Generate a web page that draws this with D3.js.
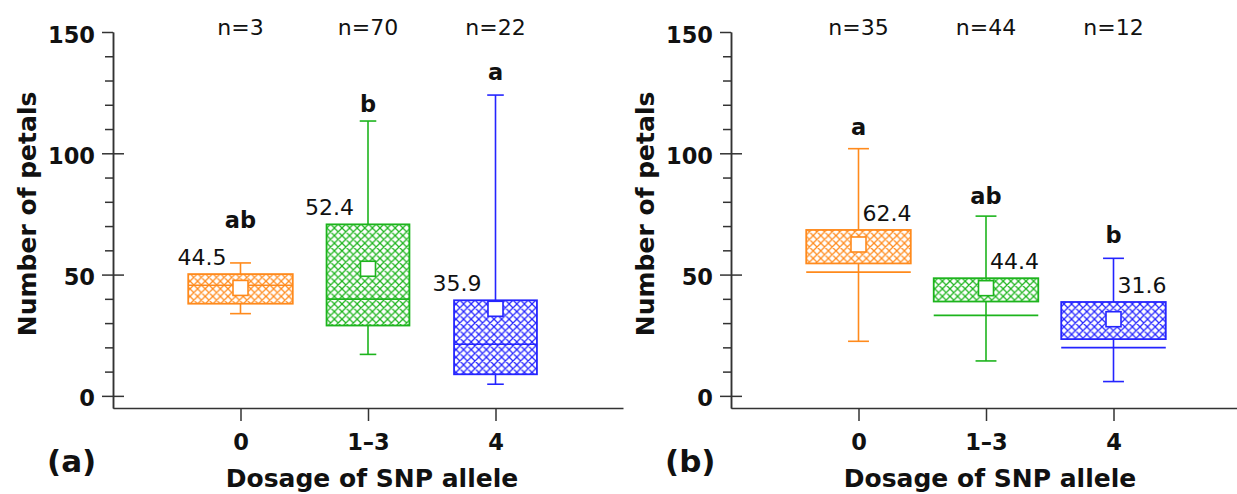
<!DOCTYPE html>
<html>
<head>
<meta charset="utf-8">
<script src="https://cdn.jsdelivr.net/npm/d3@7"></script>
<style>
  html, body { margin: 0; padding: 0; background: #fff; }
  svg { display: block; }
  text { font-family: "DejaVu Sans", Verdana, sans-serif; fill: #111; }
</style>
</head>
<body>
<svg id="chart" width="1237" height="494"></svg>
<script>
// ---------- data ----------
const categories = ["0", "1–3", "4"];
const seriesColors = ["#ff8a1c", "#1db41d", "#2424ff"];
const yMajorTicks = [0, 50, 100, 150];
const yMinorTicks = [10, 20, 30, 40, 60, 70, 80, 90, 110, 120, 130, 140];

// panel (a)
const nA = [3, 70, 22];
const whiskerHighA = [54.8, 113.3, 124.0];
const boxHighA = [50.2, 70.7, 39.4];
const lineA = [45.6, 39.9, 21.3];
const boxLowA = [38.0, 29.0, 8.9];
const whiskerLowA = [33.9, 17.1, 4.8];
const meanA = [44.5, 52.4, 35.9];
const lettersA = ["ab", "b", "a"];
const letterAtA = [69.1, 116.9, 130.4];
const boxWidthA = [0.82, 0.65, 0.65];

// panel (b)
const nB = [35, 44, 12];
const whiskerHighB = [101.9, 74.1, 56.7];
const boxHighB = [68.4, 48.5, 38.7];
const lineB = [51.0, 33.2, 19.9];
const boxLowB = [54.6, 38.9, 23.4];
const whiskerLowB = [22.5, 14.4, 5.9];
const meanB = [62.4, 44.4, 31.6];
const lettersB = ["a", "ab", "b"];
const letterAtB = [107.4, 79.3, 63.2];
const boxWidthB = [0.82, 0.82, 0.82];

// ---------- drawing ----------
const svg = d3.select("#chart");
const defs = svg.append("defs");
seriesColors.forEach((c, i) => {
  const p = defs.append("pattern")
    .attr("id", "hatch" + i)
    .attr("patternUnits", "userSpaceOnUse")
    .attr("width", 7.6).attr("height", 7.6);
  p.append("path")
    .attr("d", "M0,0L7.6,7.6M-1,6.6L1,8.6M6.6,-1L8.6,1M0,7.6L7.6,0M-1,1L1,-1M6.6,8.6L8.6,6.6")
    .attr("stroke", c).attr("stroke-width", 1.25).attr("fill", "none");
});

function drawPanel(opt) {
  const g = svg.append("g");
  const x = d3.scaleLinear().domain([0, 4]).range([opt.left, opt.left + 510]);
  const y = d3.scaleLinear().domain([-5, 150]).range([408, 32]);
  const step = x(1) - x(0);
  const idx = categories.map((d, i) => i);

  // axes
  const axisColor = "#333";
  g.append("g").attr("transform", `translate(${opt.left},0)`)
    .call(d3.axisLeft(y).tickValues(yMinorTicks).tickSize(8).tickSizeOuter(0).tickFormat(""));
  const yMajorR = g.append("g").attr("transform", `translate(${opt.left},0)`)
    .call(d3.axisRight(y).tickValues(yMajorTicks.filter(v => v < 150)).tickSize(11).tickFormat(""));
  yMajorR.select(".domain").remove();
  const yAxis = g.append("g").attr("transform", `translate(${opt.left},0)`)
    .call(d3.axisLeft(y).tickValues(yMajorTicks).tickSize(11).tickSizeOuter(0).tickPadding(7));
  yAxis.selectAll("text")
    .style("font-weight", "bold").style("font-size", "22.5px")
    .attr("dy", "0.45em");
  const xAxis = g.append("g").attr("transform", `translate(0,${y(-5)})`)
    .call(d3.axisBottom(x).tickValues([1, 2, 3]).tickFormat(v => categories[v - 1])
      .tickSize(13).tickSizeOuter(0).tickPadding(13));
  xAxis.selectAll("text").style("font-weight", "bold").style("font-size", "22.5px");
  g.selectAll(".domain, .tick line").attr("stroke", axisColor).attr("stroke-width", 1.5);
  g.selectAll(".tick text").attr("fill", "#111");

  // axis titles
  g.append("text")
    .attr("transform", `translate(${opt.left - 77},${y(75)}) rotate(-90)`)
    .attr("text-anchor", "middle")
    .style("font-weight", "bold").style("font-size", "25px")
    .text("Number of petals");
  g.append("text")
    .attr("x", x(2) + 4).attr("y", 487)
    .attr("text-anchor", "middle")
    .style("font-weight", "bold").style("font-size", "25px")
    .text("Dosage of SNP allele");
  g.append("text")
    .attr("x", opt.left - 66).attr("y", 472)
    .style("font-weight", "bold").style("font-size", "31px")
    .text(opt.tag);

  // boxes
  idx.forEach(i => {
    const cx = x(i + 1);
    const col = seriesColors[i];
    const hw = opt.boxWidth[i] * step / 2;
    const cap = hw * 0.2;
    const bg = g.append("g").attr("stroke", col).attr("stroke-width", 1.6).attr("fill", "none");
    // whiskers
    bg.append("line").attr("x1", cx).attr("x2", cx)
      .attr("y1", y(opt.whiskerHigh[i])).attr("y2", y(opt.boxHigh[i]));
    bg.append("line").attr("x1", cx).attr("x2", cx)
      .attr("y1", y(opt.boxLow[i])).attr("y2", y(opt.whiskerLow[i]));
    bg.append("line").attr("x1", cx - cap).attr("x2", cx + cap)
      .attr("y1", y(opt.whiskerHigh[i])).attr("y2", y(opt.whiskerHigh[i]));
    bg.append("line").attr("x1", cx - cap).attr("x2", cx + cap)
      .attr("y1", y(opt.whiskerLow[i])).attr("y2", y(opt.whiskerLow[i]));
    // box
    bg.append("rect")
      .attr("x", cx - hw).attr("width", 2 * hw)
      .attr("y", y(opt.boxHigh[i])).attr("height", y(opt.boxLow[i]) - y(opt.boxHigh[i]))
      .attr("fill", `url(#hatch${i})`).attr("stroke-width", 1.8);
    // horizontal line (median)
    bg.append("line").attr("x1", cx - hw).attr("x2", cx + hw)
      .attr("y1", y(opt.line[i])).attr("y2", y(opt.line[i]));
    // mean square
    bg.append("rect")
      .attr("x", cx - 7.5).attr("y", y(opt.mean[i]) - 7.5)
      .attr("width", 15).attr("height", 15)
      .attr("fill", "#fff");
    // mean label
    const lbl = g.append("text")
      .attr("y", y(opt.boxHigh[i]) - 9)
      .style("font-size", "22px")
      .text(opt.mean[i].toFixed(1));
    if (opt.labelLeft) lbl.attr("x", cx - 14).attr("text-anchor", "end");
    else lbl.attr("x", cx + 4).attr("text-anchor", "start");
    // letters
    g.append("text")
      .attr("x", cx).attr("y", y(opt.letterAt[i]))
      .attr("text-anchor", "middle")
      .style("font-weight", "bold").style("font-size", "22.5px")
      .text(opt.letters[i]);
    // n labels
    g.append("text")
      .attr("x", cx).attr("y", 35)
      .attr("text-anchor", "middle")
      .style("font-size", "22px")
      .text("n=" + opt.n[i]);
  });
}

drawPanel({
  left: 113, tag: "(a)", labelLeft: true,
  n: nA, whiskerHigh: whiskerHighA, boxHigh: boxHighA, line: lineA, boxLow: boxLowA,
  whiskerLow: whiskerLowA, mean: meanA, letters: lettersA, letterAt: letterAtA, boxWidth: boxWidthA
});
drawPanel({
  left: 731, tag: "(b)", labelLeft: false,
  n: nB, whiskerHigh: whiskerHighB, boxHigh: boxHighB, line: lineB, boxLow: boxLowB,
  whiskerLow: whiskerLowB, mean: meanB, letters: lettersB, letterAt: letterAtB, boxWidth: boxWidthB
});
</script>
</body>
</html>
